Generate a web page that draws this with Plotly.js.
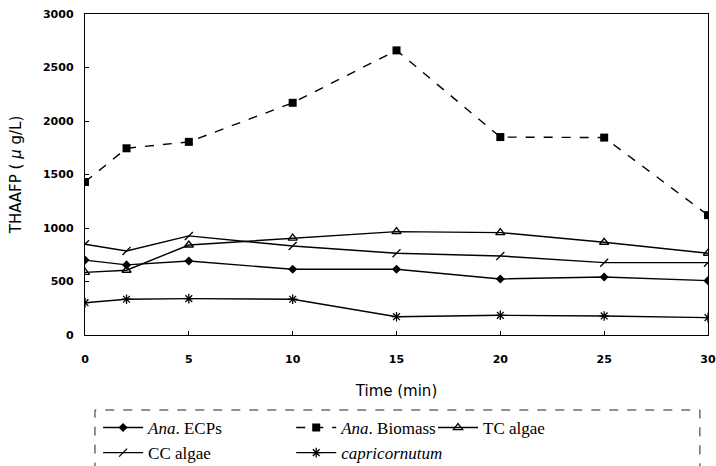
<!DOCTYPE html>
<html>
<head>
<meta charset="utf-8">
<script src="https://cdn.plot.ly/plotly-3.0.1.min.js"></script>
<style>html,body{margin:0;padding:0;background:#fff;}#chart{width:716px;height:466px;}</style>
</head>
<body>
<div id="chart"></div>
<script>
// Data
const time = [0, 2, 5, 10, 15, 20, 25, 30];
const anaECPs = [700, 655, 692, 614, 614, 524, 542, 508];
const anaBiomass = [1430, 1745, 1805, 2170, 2660, 1850, 1845, 1120];
const tcAlgae = [585, 605, 841, 905, 966, 957, 867, 764];
const ccAlgae = [848, 785, 926, 832, 764, 739, 676, 676];
const capricornutum = [302, 334, 340, 334, 171, 184, 178, 162];

const seriesNames = ["<i>Ana</i>. ECPs", "<i>Ana</i>. Biomass", "TC algae", "CC algae", "<i>capricornutum</i>"];
const xTickVals = [0, 5, 10, 15, 20, 25, 30];
const yTickVals = [0, 500, 1000, 1500, 2000, 2500, 3000];

const lineStyle = {color: "#000", width: 1.4};

const traces = [
  {x: time, y: anaECPs, name: seriesNames[0], legend: "legend",
   mode: "lines+markers", line: lineStyle,
   marker: {symbol: "diamond", size: 7, color: "#000"}},
  {x: time, y: anaBiomass, name: seriesNames[1], legend: "legend2",
   mode: "lines+markers", line: {color: "#000", width: 1.4, dash: "dash"},
   marker: {symbol: "square", size: 8, color: "#000"}},
  {x: time, y: tcAlgae, name: seriesNames[2], legend: "legend3",
   mode: "lines+markers", line: lineStyle,
   marker: {symbol: "triangle-up-open", size: 8, color: "#000", line: {width: 1.3, color: "#000"}}},
  {x: time, y: ccAlgae, name: seriesNames[3], legend: "legend",
   mode: "lines+markers", line: lineStyle,
   marker: {symbol: "line-ne-open", size: 8, color: "#000", line: {width: 1.3, color: "#000"}}},
  {x: time, y: capricornutum, name: seriesNames[4], legend: "legend2",
   mode: "lines+markers", line: lineStyle,
   marker: {symbol: "asterisk-open", size: 8, color: "#000", line: {width: 1.3, color: "#000"}}}
];

const legendFont = {family: "Liberation Serif", size: 17, color: "#000"};
const legendBase = {orientation: "v", xanchor: "left", yanchor: "top", font: legendFont,
  bgcolor: "rgba(0,0,0,0)", borderwidth: 0, tracegroupgap: 0, itemwidth: 40};

const tickFont = {family: "DejaVu Sans", size: 11, color: "#000", weight: "bold"};

const layout = {
  width: 716, height: 466,
  margin: {l: 85, r: 8, t: 14, b: 131, autoexpand: false},
  paper_bgcolor: "#fff", plot_bgcolor: "#fff",
  showlegend: true,
  xaxis: {
    range: [0, 30], tickvals: xTickVals, ticktext: xTickVals.map(String),
    showgrid: false, zeroline: false, showline: true, mirror: true,
    linecolor: "#000", linewidth: 1.2, ticks: "inside", ticklen: 4, tickcolor: "#000",
    ticklabelstandoff: 14,
    tickfont: tickFont,
    title: {text: "Time (min)", standoff: 20, font: {family: "DejaVu Sans", size: 15, color: "#000"}}
  },
  yaxis: {
    range: [0, 3000], tickvals: yTickVals, ticktext: yTickVals.map(String),
    showgrid: false, zeroline: false, showline: true, mirror: true,
    linecolor: "#000", linewidth: 1.2, ticks: "inside", ticklen: 4, tickcolor: "#000",
    ticklabelstandoff: 8,
    tickfont: tickFont,
    title: {text: "THAAFP ( <i>μ</i> g/L)", standoff: 17, font: {family: "DejaVu Sans", size: 15, color: "#000"}}
  },
  legend: Object.assign({}, legendBase, {x: 0.021, y: -0.2336}),
  legend2: Object.assign({}, legendBase, {x: 0.331, y: -0.2336}),
  legend3: Object.assign({}, legendBase, {x: 0.5586, y: -0.2336}),
  shapes: [
    {type: "rect", xref: "paper", yref: "paper", x0: 0.016, x1: 0.987, y0: -0.45, y1: -0.2336,
     line: {color: "#222", width: 1, dash: "dash"}, fillcolor: "rgba(0,0,0,0)"}
  ]
};

Plotly.newPlot("chart", traces, layout, {displayModeBar: false, staticPlot: true});
</script>
</body>
</html>
